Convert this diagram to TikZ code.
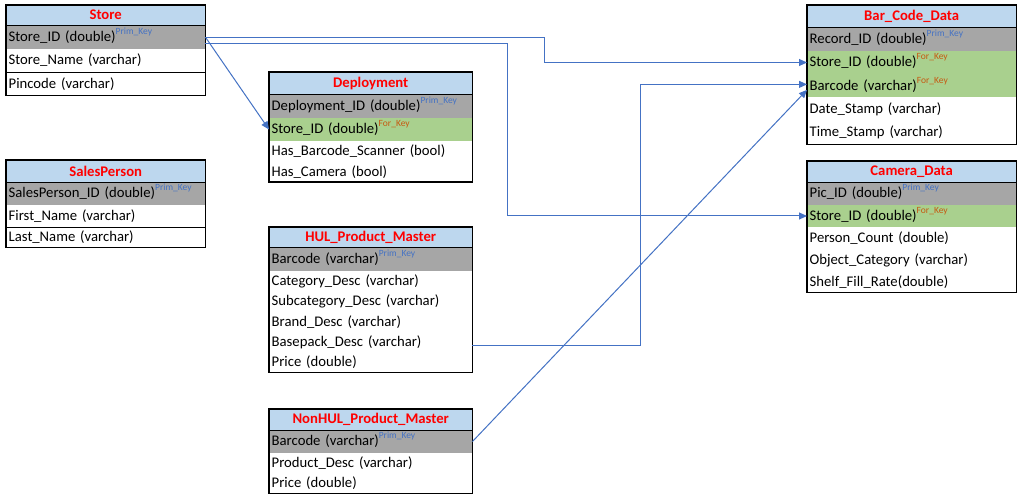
\documentclass[tikz,border=0pt]{standalone}
\usepackage{fontspec}
\setmainfont{Carlito}
\usetikzlibrary{arrows.meta,calc}
\definecolor{hdr}{HTML}{BDD7EE}
\definecolor{pkf}{HTML}{A6A6A6}
\definecolor{fkf}{HTML}{A9D08E}
\definecolor{ttlred}{HTML}{FF0000}
\definecolor{pkc}{HTML}{4472C4}
\definecolor{fkc}{HTML}{C65911}
\definecolor{lnc}{HTML}{4472C4}
\newcommand\rowfont{\fontsize{14.7bp}{17bp}\selectfont}
\newcommand\supfont{\fontsize{9.5bp}{10bp}\selectfont}
\newcommand\PKsup{\smash{\raisebox{7bp}{\supfont\color{pkc}Prim\_Key}}}
\newcommand\FKsup{\smash{\raisebox{7bp}{\supfont\color{fkc}For\_Key}}}
\begin{document}
\begin{tikzpicture}[x=1bp,y=-1bp,
  row/.style={anchor=north west, inner xsep=2.5bp, inner ysep=0bp, align=left, font=\rowfont, text=black},
  wA/.style={minimum width=199bp, text width=194bp},
  wB/.style={minimum width=203bp, text width=198bp},
  wC/.style={minimum width=209bp, text width=204bp},
  ttl/.style={row, align=center, fill=hdr, font=\rowfont\bfseries, text=ttlred},
  pk/.style={fill=pkf},
  fk/.style={fill=fkf},
  box/.style={draw=black, line width=1.2bp},
  conn/.style={draw=lnc, line width=1bp, -{Triangle[length=8bp,width=7bp]}}
]
\fill[white] (0,0) rectangle (1023,499);
\useasboundingbox (0,0) rectangle (1023,499);

% Store
\node[ttl,wA,minimum height=20bp] (st-t) at (6,5) {Store};
\node[row,wA,pk,minimum height=23bp] (st-1) at (st-t.south west) {Store\_ID (double)\PKsup};
\node[row,wA,minimum height=23bp] (st-2) at (st-1.south west) {Store\_Name (varchar)};
\node[row,wA,minimum height=23bp] (st-3) at (st-2.south west) {Pincode (varchar)};
\draw[box] (st-t.north west) rectangle (st-3.south east);
\draw[box] (st-t.south west) -- (st-t.south east);
\draw[box] (st-2.south west) -- (st-2.south east);

% SalesPerson
\node[ttl,wA,minimum height=22bp] (sp-t) at (6,160) {SalesPerson};
\node[row,wA,pk,minimum height=22bp] (sp-1) at (sp-t.south west) {SalesPerson\_ID (double)\PKsup};
\node[row,wA,minimum height=22bp] (sp-2) at (sp-1.south west) {First\_Name (varchar)};
\node[row,wA,minimum height=20bp] (sp-3) at (sp-2.south west) {Last\_Name (varchar)};
\draw[box] (sp-t.north west) rectangle (sp-3.south east);
\draw[box] (sp-t.south west) -- (sp-t.south east);
\draw[box] (sp-2.south west) -- (sp-2.south east);

% Deployment
\node[ttl,wB,minimum height=22bp] (dp-t) at (269,72) {Deployment};
\node[row,wB,pk,minimum height=23bp] (dp-1) at (dp-t.south west) {Deployment\_ID (double)\PKsup};
\node[row,wB,fk,minimum height=23bp] (dp-2) at (dp-1.south west) {Store\_ID (double)\FKsup};
\node[row,wB,minimum height=20bp] (dp-3) at (dp-2.south west) {Has\_Barcode\_Scanner (bool)};
\node[row,wB,minimum height=20bp] (dp-4) at (dp-3.south west) {Has\_Camera (bool)};
\draw[box] (dp-t.north west) rectangle (dp-4.south east);
\draw[box] (dp-t.south west) -- (dp-t.south east);

% HUL_Product_Master
\node[ttl,wB,minimum height=20bp] (hul-t) at (269,227) {HUL\_Product\_Master};
\node[row,wB,pk,minimum height=23bp] (hul-1) at (hul-t.south west) {Barcode (varchar)\PKsup};
\node[row,wB,minimum height=20bp] (hul-2) at (hul-1.south west) {Category\_Desc (varchar)};
\node[row,wB,minimum height=20bp] (hul-3) at (hul-2.south west) {Subcategory\_Desc (varchar)};
\node[row,wB,minimum height=20bp] (hul-4) at (hul-3.south west) {Brand\_Desc (varchar)};
\node[row,wB,minimum height=20bp] (hul-5) at (hul-4.south west) {Basepack\_Desc (varchar)};
\node[row,wB,minimum height=20bp] (hul-6) at (hul-5.south west) {Price (double)};
\draw[box] (hul-t.north west) rectangle (hul-6.south east);
\draw[box] (hul-t.south west) -- (hul-t.south east);

% NonHUL_Product_Master
\node[ttl,wB,minimum height=21bp] (nh-t) at (269,409) {NonHUL\_Product\_Master};
\node[row,wB,pk,minimum height=22bp] (nh-1) at (nh-t.south west) {Barcode (varchar)\PKsup};
\node[row,wB,minimum height=20bp] (nh-2) at (nh-1.south west) {Product\_Desc (varchar)};
\node[row,wB,minimum height=20bp] (nh-3) at (nh-2.south west) {Price (double)};
\draw[box] (nh-t.north west) rectangle (nh-3.south east);
\draw[box] (nh-t.south west) -- (nh-t.south east);

% Bar_Code_Data
\node[ttl,wC,minimum height=22bp] (bc-t) at (807,5) {Bar\_Code\_Data};
\node[row,wC,pk,minimum height=23bp] (bc-1) at (bc-t.south west) {Record\_ID (double)\PKsup};
\node[row,wC,fk,minimum height=23bp] (bc-2) at (bc-1.south west) {Store\_ID (double)\FKsup};
\node[row,wC,fk,minimum height=23bp] (bc-3) at (bc-2.south west) {Barcode (varchar)\FKsup};
\node[row,wC,minimum height=23bp] (bc-4) at (bc-3.south west) {Date\_Stamp (varchar)};
\node[row,wC,minimum height=23bp] (bc-5) at (bc-4.south west) {Time\_Stamp (varchar)};
\draw[box] (bc-t.north west) rectangle (bc-5.south east);
\draw[box] (bc-t.south west) -- (bc-t.south east);

% Camera_Data
\node[ttl,wC,minimum height=21bp] (cam-t) at (807,161) {Camera\_Data};
\node[row,wC,pk,minimum height=22bp] (cam-1) at (cam-t.south west) {Pic\_ID (double)\PKsup};
\node[row,wC,fk,minimum height=22bp] (cam-2) at (cam-1.south west) {Store\_ID (double)\FKsup};
\node[row,wC,minimum height=22bp] (cam-3) at (cam-2.south west) {Person\_Count (double)};
\node[row,wC,minimum height=22bp] (cam-4) at (cam-3.south west) {Object\_Category (varchar)};
\node[row,wC,minimum height=20bp] (cam-5) at (cam-4.south west) {Shelf\_Fill\_Rate(double)};
\draw[box] (cam-t.north west) rectangle (cam-5.south east);
\draw[box] (cam-t.south west) -- (cam-t.south east);

% Connectors
\draw[conn] (st-1.east) -- (dp-2.west);
\draw[conn] (st-1.east) -| ($(bc-2.west)+(-263,0)$) -- (bc-2.west);
\draw[conn] ($(st-1.east)+(0,6.5)$) -| ($(cam-2.west)+(-300,0)$) -- (cam-2.west);
\draw[conn] ($(hul-5.east)+(0,3)$) -| ($(bc-3.west)+(-167,-1.5)$) -- ($(bc-3.west)+(0,-1.5)$);
\draw[conn] (nh-1.east) -- ($(bc-3.west)+(0,4)$);
\end{tikzpicture}
\end{document}
